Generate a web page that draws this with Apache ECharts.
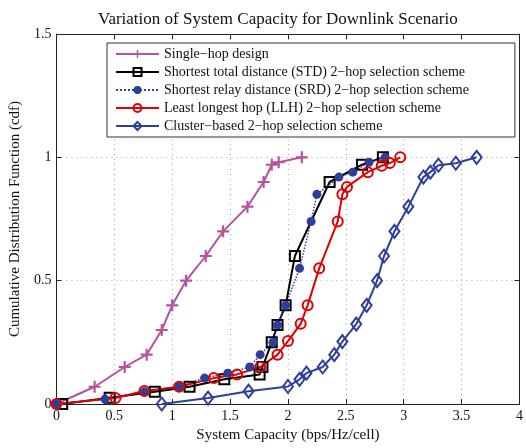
<!DOCTYPE html>
<html>
<head>
<meta charset="utf-8">
<title>Variation of System Capacity for Downlink Scenario</title>
<script src="https://cdn.jsdelivr.net/npm/echarts@6/dist/echarts.min.js"></script>
<style>
	html,body{margin:0;padding:0;background:#fff;}
	#main{width:526px;height:448px;}
</style>
</head>
<body>
<div id="main"></div>
<script>
// data
var seriesNames = [
	'Single\u2212hop design',
	'Shortest total distance (STD) 2\u2212hop selection scheme',
	'Shortest relay distance (SRD) 2\u2212hop selection scheme',
	'Least longest hop (LLH) 2\u2212hop selection scheme',
	'Cluster\u2212based 2\u2212hop selection scheme'
];
var xTicks = [0, 0.5, 1, 1.5, 2, 2.5, 3, 3.5, 4];
var yTicks = [0, 0.5, 1, 1.5];

var singleX = [0, 0.33, 0.59, 0.78, 0.91, 1.0, 1.12, 1.29, 1.44, 1.65, 1.79, 1.86, 1.92, 2.12];
var singleY = [0, 0.07, 0.15, 0.2, 0.3, 0.4, 0.5, 0.6, 0.7, 0.8, 0.9, 0.97, 0.98, 1.0];

var stdX = [0.05, 0.46, 0.85, 1.15, 1.45, 1.755, 1.78, 1.86, 1.91, 1.98, 2.06, 2.36, 2.64, 2.82];
var stdY = [0, 0.025, 0.05, 0.07, 0.1, 0.12, 0.15, 0.25, 0.32, 0.4, 0.6, 0.9, 0.97, 1.0];

var srdX = [0, 0.42, 0.76, 1.06, 1.28, 1.48, 1.67, 1.76, 1.87, 1.91, 1.98, 2.10, 2.20, 2.25, 2.44, 2.56, 2.70, 2.84];
var srdY = [0, 0.02, 0.05, 0.07, 0.105, 0.125, 0.15, 0.2, 0.25, 0.32, 0.4, 0.55, 0.74, 0.85, 0.92, 0.94, 0.98, 1.0];

var llhX = [0, 0.51, 0.76, 1.06, 1.36, 1.56, 1.76, 1.91, 2.0, 2.11, 2.17, 2.27, 2.43, 2.47, 2.51, 2.69, 2.81, 2.88, 2.97];
var llhY = [0, 0.024, 0.053, 0.07, 0.105, 0.12, 0.15, 0.2, 0.255, 0.325, 0.4, 0.55, 0.74, 0.85, 0.88, 0.94, 0.966, 0.977, 1.0];

var clusterX = [0.91, 1.31, 1.66, 2.0, 2.1, 2.16, 2.3, 2.4, 2.47, 2.59, 2.68, 2.77, 2.83, 2.92, 3.04, 3.17, 3.23, 3.3, 3.45, 3.63];
var clusterY = [0, 0.024, 0.052, 0.071, 0.1, 0.125, 0.15, 0.2, 0.253, 0.324, 0.4, 0.5, 0.6, 0.7, 0.8, 0.92, 0.94, 0.968, 0.976, 1.0];

function pairs(xs, ys){
	var out = [];
	for(var i = 0; i < xs.length; i++){
		out.push([xs[i], ys[i]]);
	}
	return out;
}

var serif = '"Liberation Serif", "DejaVu Serif", serif';
var plusPath = 'path://M4.1,0H5.9V4.1H10V5.9H5.9V10H4.1V5.9H0V4.1H4.1Z';

var myChart = echarts.init(document.getElementById('main'));

function axisBase(pos, ticks, showLabel){
	return {
		type: 'value',
		position: pos,
		min: ticks[0],
		max: ticks[ticks.length - 1],
		interval: ticks[1] - ticks[0],
		axisLine: {show: true, onZero: false, lineStyle: {color: '#222', width: 1}},
		axisTick: {show: true, inside: true, length: 5, lineStyle: {color: '#222'}},
		axisLabel: {
			show: showLabel,
			color: '#111',
			fontFamily: serif,
			fontSize: 14,
			margin: 5,
			formatter: function(v){ return String(v); }
		},
		splitLine: {show: false}
	};
}

var xBottom = axisBase('bottom', xTicks, true);
xBottom.splitLine = {show: true, lineStyle: {color: '#aaa', type: [1, 4], width: 1}};
xBottom.name = 'System Capacity (bps/Hz/cell)';
xBottom.nameLocation = 'middle';
xBottom.nameGap = 24;
xBottom.nameTextStyle = {color: '#111', fontFamily: serif, fontSize: 15};

var yLeft = axisBase('left', yTicks, true);
yLeft.splitLine = {show: true, lineStyle: {color: '#aaa', type: [1, 4], width: 1}};
yLeft.name = 'Cumulative Distribution Function (cdf)';
yLeft.nameLocation = 'middle';
yLeft.nameGap = 30;
yLeft.nameTextStyle = {color: '#111', fontFamily: serif, fontSize: 15};

myChart.setOption({
	animation: false,
	backgroundColor: '#fff',
	title: {
		text: 'Variation of System Capacity for Downlink Scenario',
		left: 93,
		top: 6,
		textStyle: {color: '#111', fontFamily: serif, fontSize: 17, fontWeight: 'normal'}
	},
	legend: {
		orient: 'vertical',
		left: 107,
		top: 43,
		padding: [4, 46, 4, 8],
		itemWidth: 43,
		itemHeight: 10,
		itemGap: 4,
		backgroundColor: '#fff',
		borderColor: '#333',
		borderWidth: 1,
		textStyle: {color: '#111', fontFamily: serif, fontSize: 14},
		data: seriesNames
	},
	grid: {left: 55, right: 3, top: 34, bottom: 42},
	xAxis: [xBottom, axisBase('top', xTicks, false)],
	yAxis: [yLeft, axisBase('right', yTicks, false)],
	series: [
		{
			name: seriesNames[0],
			type: 'line',
			data: pairs(singleX, singleY),
			symbol: plusPath,
			symbolSize: 12,
			lineStyle: {color: '#b8529e', width: 2},
			itemStyle: {color: '#b8529e'}
		},
		{
			name: seriesNames[1],
			type: 'line',
			data: pairs(stdX, stdY),
			symbol: 'rect',
			symbolSize: 10,
			lineStyle: {color: '#000', width: 2},
			itemStyle: {color: 'rgba(255,255,255,0)', borderColor: '#000', borderWidth: 2}
		},
		{
			name: seriesNames[2],
			type: 'line',
			data: pairs(srdX, srdY),
			symbol: 'circle',
			symbolSize: 9,
			lineStyle: {color: '#2b3f9b', width: 1.5, type: 'dotted'},
			itemStyle: {color: '#2b3f9b'}
		},
		{
			name: seriesNames[3],
			type: 'line',
			data: pairs(llhX, llhY),
			symbol: 'circle',
			symbolSize: 10,
			lineStyle: {color: '#e00000', width: 2},
			itemStyle: {color: 'rgba(255,255,255,0)', borderColor: '#e00000', borderWidth: 2}
		},
		{
			name: seriesNames[4],
			type: 'line',
			data: pairs(clusterX, clusterY),
			symbol: 'diamond',
			symbolSize: [10, 13],
			lineStyle: {color: '#2b3f9b', width: 2},
			itemStyle: {color: 'rgba(255,255,255,0)', borderColor: '#2b3f9b', borderWidth: 2}
		}
	]
});

window.onresize = function(){
	myChart.resize();
}
</script>
</body>
</html>
